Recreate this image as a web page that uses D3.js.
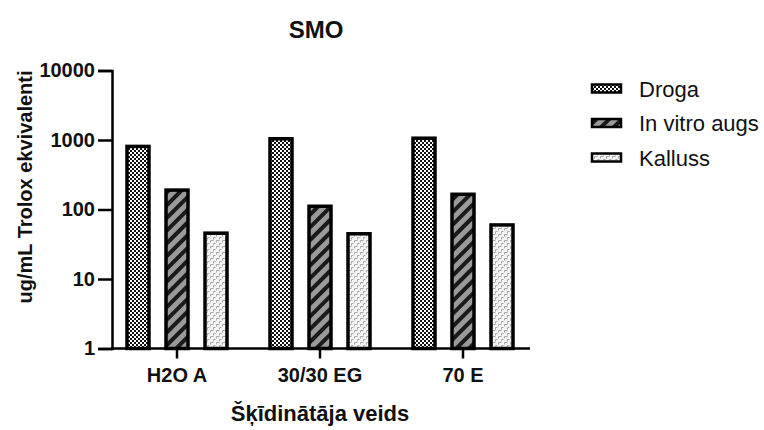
<!DOCTYPE html>
<html><head><meta charset="utf-8">
<script src="https://cdn.jsdelivr.net/npm/d3@7"></script>
<style>body{margin:0;background:#fff}svg{display:block;font-family:"Liberation Sans",Arial,sans-serif}</style>
</head><body>
<script>
const categories = ["H2O A", "30/30 EG", "70 E"];
const series = ["Droga", "In vitro augs", "Kalluss"];
const droga = [850, 1095, 1115];
const inVitro = [200, 117, 174];
const kalluss = [48, 47, 63];
const yTicks = [1, 10, 100, 1000, 10000];
const values = [droga, inVitro, kalluss];

const W = 764, H = 430;
const svg = d3.select("body").append("svg").attr("width", W).attr("height", H);
const defs = svg.append("defs");

// patterns
const p1 = defs.append("pattern").attr("id","pat0").attr("patternUnits","userSpaceOnUse").attr("width",4).attr("height",4);
p1.append("rect").attr("width",4).attr("height",4).attr("fill","#fff");
p1.append("rect").attr("width",2).attr("height",2).attr("fill","#111");
p1.append("rect").attr("x",2).attr("y",2).attr("width",2).attr("height",2).attr("fill","#111");

const p2 = defs.append("pattern").attr("id","pat1").attr("patternUnits","userSpaceOnUse").attr("width",9).attr("height",9).attr("patternTransform","rotate(-45)");
p2.append("rect").attr("width",9).attr("height",9).attr("fill","#9a9a9a");
p2.append("rect").attr("width",9).attr("height",4).attr("fill","#1a1a1a");

const p3 = defs.append("pattern").attr("id","pat2").attr("patternUnits","userSpaceOnUse").attr("width",6).attr("height",6);
p3.append("rect").attr("width",6).attr("height",6).attr("fill","#f4f4f4");
p3.append("path").attr("d","M0.5 0.5h3M0.5 0.5v2M3.5 3.5h2M3.5 3.5v2").attr("stroke","#a8a8a8").attr("stroke-width",1).attr("fill","none");

const y = d3.scaleLog().domain([1, 10000]).range([348.5, 70.5]);
const x0 = d3.scaleBand().domain(categories).range([105.5, 534.5]);
const x1 = d3.scaleBand().domain(series).range([-51.5, 51.5]).paddingInner(14/39);

// bars
series.forEach((s, si) => {
  svg.append("g").selectAll("rect").data(categories).join("rect")
    .attr("x", c => x0(c) + x0.bandwidth()/2 + x1(s) + 1.5)
    .attr("width", x1.bandwidth() - 3)
    .attr("y", (c, i) => y(values[si][i]) + 1.5)
    .attr("height", (c, i) => y(1) - y(values[si][i]) - 1.5)
    .attr("fill", `url(#pat${si})`)
    .attr("stroke", "#000").attr("stroke-width", 3.5);
});

const FF = "Liberation Sans, Arial, sans-serif";
// y axis
const yAxis = svg.append("g").attr("transform","translate(112,0)")
  .call(d3.axisLeft(y).tickValues(yTicks).tickFormat(d3.format("d")).tickSize(14).tickPadding(3));
yAxis.select(".domain").attr("stroke","#000").attr("stroke-width",2.5);
yAxis.selectAll(".tick line").attr("stroke","#000").attr("stroke-width",2.5);
yAxis.selectAll("text").attr("font-size",20).attr("font-weight","bold").attr("fill","#111").attr("font-family",FF);

// x axis
const xAxis = svg.append("g").attr("transform",`translate(0,${y(1)})`)
  .call(d3.axisBottom(x0).tickSize(10).tickPadding(9).tickSizeOuter(0));
xAxis.select(".domain").attr("d", "M111,0H530").attr("stroke","#000").attr("stroke-width",2.5);
xAxis.selectAll(".tick line").attr("stroke","#000").attr("stroke-width",2.5);
xAxis.selectAll("text").attr("font-size",20).attr("font-weight","bold").attr("fill","#111").attr("font-family",FF);

// titles
svg.append("text").attr("x",316).attr("y",38).attr("text-anchor","middle").attr("font-size",24).attr("font-weight","bold").attr("fill","#111").text("SMO");
svg.append("text").attr("x",320).attr("y",421).attr("text-anchor","middle").attr("font-size",22).attr("font-weight","bold").attr("fill","#111").text("Šķīdinātāja veids");
svg.append("text").attr("transform","translate(32,187) rotate(-90)").attr("text-anchor","middle").attr("font-size",20).attr("font-weight","bold").attr("fill","#111").text("ug/mL Trolox ekvivalenti");

// legend
const leg = svg.append("g");
series.forEach((s, si) => {
  const cy = 88.5 + si * 34.5;
  leg.append("rect").attr("x",592).attr("y",cy-4).attr("width",29).attr("height",8)
    .attr("fill",`url(#pat${si})`).attr("stroke","#000").attr("stroke-width",2.5);
  leg.append("text").attr("x",639).attr("y",cy+8).attr("font-size",22).attr("fill","#111").text(s);
});
</script>
</body></html>
